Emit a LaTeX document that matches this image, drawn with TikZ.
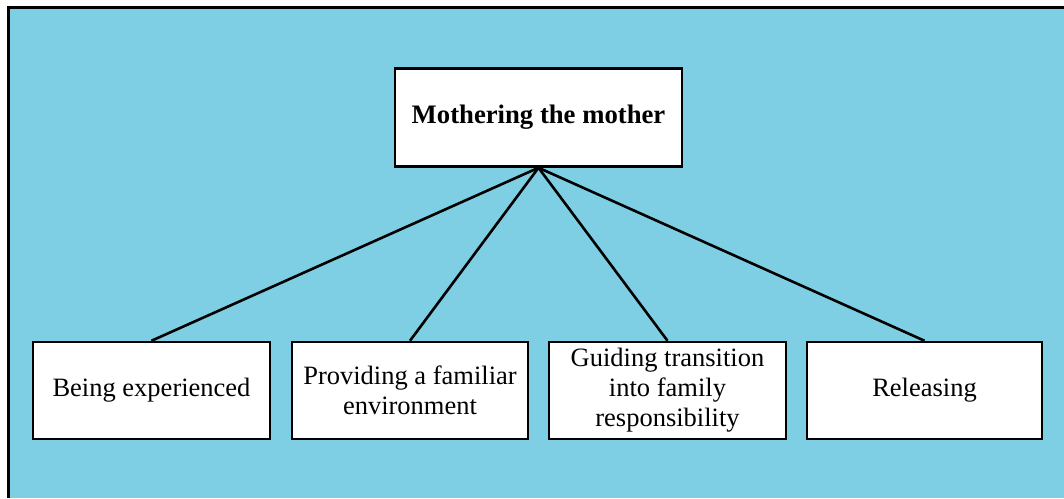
\documentclass[tikz,border=0pt]{standalone}
\usepackage{fontspec}
\setmainfont{Liberation Serif}
\definecolor{panelblue}{HTML}{7ECFE3}
\begin{document}
\begin{tikzpicture}[x=1pt,y=-1pt,
  box/.style={draw=black,line width=2.5pt,fill=white,inner sep=0pt,align=center,
    font=\fontsize{26.5}{30}\selectfont},
  link/.style={draw=black,line width=2.6pt}]
% page and panel
\fill[white] (0,0) rectangle (1064,498);
\useasboundingbox (0,0) rectangle (1064,498);
\fill[panelblue] (8,7) rectangle (1064,498);
\draw[line width=3pt] (8.5,498) -- (8.5,7.5) -- (1064,7.5);
% boxes
\node[box,minimum width=287pt,minimum height=98pt,font=\fontsize{26.7}{30}\selectfont\bfseries]
  (root) at (538.5,117.5) {Mothering the mother};
\node[box,minimum width=237pt,minimum height=97pt] (b1) at (151.5,390.5) {Being experienced};
\node[box,minimum width=236pt,minimum height=97pt] (b2) at (410,390.5) {Providing a familiar\\environment};
\node[box,minimum width=237pt,minimum height=97pt] (b3) at (667.5,390.5) {Guiding transition\\into family\\responsibility};
\node[box,minimum width=235pt,minimum height=97pt] (b4) at (924.5,390.5) {Releasing};
% connectors
\foreach \n in {b1,b2,b3,b4}
  \draw[link] (root.south) -- (\n.north);
\end{tikzpicture}
\end{document}
